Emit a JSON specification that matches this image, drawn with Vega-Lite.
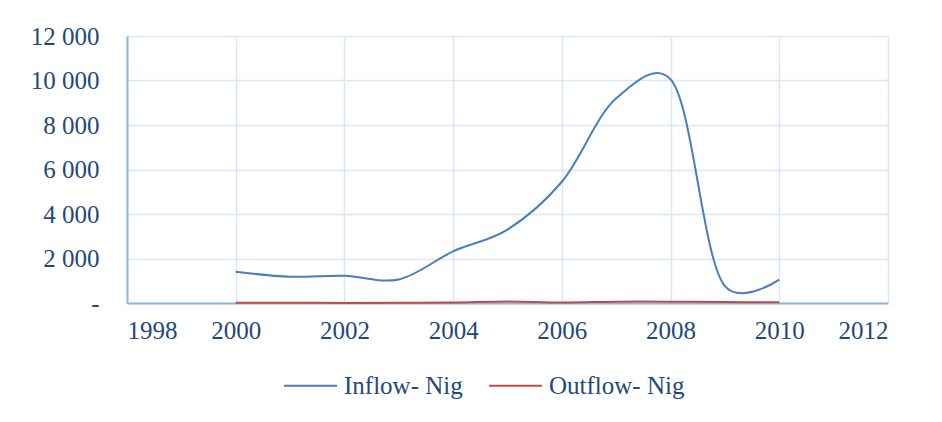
{
  "$schema": "https://vega.github.io/schema/vega-lite/v6.json",
  "autosize": {"type": "none"},
  "width": 761,
  "height": 267,
  "padding": {"left": 127, "top": 36, "right": 54, "bottom": 119},
  "background": "white",
  "config": {
    "font": "Liberation Serif",
    "view": {"stroke": null}
  },
  "data": {
    "values": [
      {"year": 2000, "series": "Inflow- Nig", "value": 1400},
      {"year": 2001, "series": "Inflow- Nig", "value": 1180},
      {"year": 2002, "series": "Inflow- Nig", "value": 1220},
      {"year": 2003, "series": "Inflow- Nig", "value": 1060},
      {"year": 2004, "series": "Inflow- Nig", "value": 2320},
      {"year": 2005, "series": "Inflow- Nig", "value": 3300},
      {"year": 2006, "series": "Inflow- Nig", "value": 5450},
      {"year": 2007, "series": "Inflow- Nig", "value": 9200},
      {"year": 2008, "series": "Inflow- Nig", "value": 10050},
      {"year": 2009, "series": "Inflow- Nig", "value": 760},
      {"year": 2010, "series": "Inflow- Nig", "value": 1050},
      {"year": 2000, "series": "Outflow- Nig", "value": 10},
      {"year": 2001, "series": "Outflow- Nig", "value": 10},
      {"year": 2002, "series": "Outflow- Nig", "value": 5},
      {"year": 2003, "series": "Outflow- Nig", "value": 10},
      {"year": 2004, "series": "Outflow- Nig", "value": 20},
      {"year": 2005, "series": "Outflow- Nig", "value": 70},
      {"year": 2006, "series": "Outflow- Nig", "value": 20},
      {"year": 2007, "series": "Outflow- Nig", "value": 60},
      {"year": 2008, "series": "Outflow- Nig", "value": 60},
      {"year": 2009, "series": "Outflow- Nig", "value": 40},
      {"year": 2010, "series": "Outflow- Nig", "value": 30}
    ]
  },
  "mark": {"type": "line", "interpolate": "catmull-rom", "tension": 0.25, "strokeWidth": 2},
  "encoding": {
    "x": {
      "field": "year",
      "type": "quantitative",
      "scale": {"domain": [1998, 2012], "nice": false, "zero": false},
      "axis": {
        "title": null,
        "values": [1998, 2000, 2002, 2004, 2006, 2008, 2010, 2012],
        "format": "d",
        "grid": true,
        "gridColor": "#D9E6F6",
        "gridWidth": 1.5,
        "domainColor": "#8EB4E3",
        "domainWidth": 2,
        "ticks": false,
        "labelPadding": 15,
        "labelFontSize": 25,
        "labelColor": "#1F497D",
        "labelFont": "Liberation Serif"
      }
    },
    "y": {
      "field": "value",
      "type": "quantitative",
      "scale": {"domain": [0, 12000], "nice": false},
      "axis": {
        "title": null,
        "values": [0, 2000, 4000, 6000, 8000, 10000, 12000],
        "labelExpr": "datum.value == 0 ? '-\u00a0\u00a0' : replace(format(datum.value, ','), ',', ' ')",
        "grid": true,
        "gridColor": "#D9E6F6",
        "gridWidth": 1.5,
        "domainColor": "#8EB4E3",
        "domainWidth": 2,
        "ticks": false,
        "labelPadding": 28,
        "labelFontSize": 25,
        "labelColor": "#1F497D",
        "labelFont": "Liberation Serif"
      }
    },
    "color": {
      "field": "series",
      "type": "nominal",
      "scale": {"domain": ["Inflow- Nig", "Outflow- Nig"], "range": ["#4A7EBB", "#BE4B48"]},
      "legend": {
        "title": null,
        "orient": "none",
        "legendX": 156,
        "legendY": 322,
        "direction": "horizontal",
        "symbolType": "stroke",
        "symbolSize": 2809,
        "symbolStrokeWidth": 2,
        "labelFontSize": 25,
        "labelColor": "#1F497D",
        "labelFont": "Liberation Serif",
        "columnPadding": 22,
        "labelOffset": 6
      }
    }
  }
}
